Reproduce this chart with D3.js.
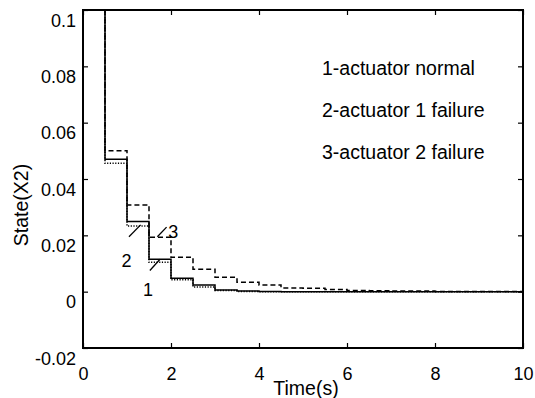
<!DOCTYPE html>
<html>
<head>
<meta charset="utf-8">
<script src="https://cdn.jsdelivr.net/npm/d3@7"></script>
<style>
  html, body { margin: 0; padding: 0; background: #fff; }
  svg { display: block; font-family: "Liberation Sans", Arial, sans-serif; }
</style>
</head>
<body>
<svg id="chart" width="535" height="398"></svg>
<script>
// ---- data ----
const times = [0, 0.5, 1, 1.5, 2, 2.5, 3, 3.5, 4, 4.5, 5, 5.5, 6, 6.5, 7, 7.5, 8, 8.5, 9, 9.5, 10];
const normal   = [0.2, 0.047, 0.0249, 0.0115, 0.0048, 0.0024, 0.0006, 0.0002, 0.0001, 0, 0, 0, 0, 0, 0, 0, 0, 0, 0, 0, 0];
const fail1    = [0.2, 0.0456, 0.0233, 0.0104, 0.0042, 0.0017, 0.0004, 0.0001, 0, 0, 0, 0, 0, 0, 0, 0, 0, 0, 0, 0, 0];
const fail2    = [0.2, 0.050, 0.0308, 0.0193, 0.0122, 0.008, 0.0051, 0.0033, 0.0024, 0.0013, 0.0012, 0.0008, 0.0004, 0.0003, 0.0002, 0.0002, 0.0001, 0.0001, 0.0001, 0.0001, 0.0001];
const xTicks = [0, 2, 4, 6, 8, 10];
const yTicks = [-0.02, 0, 0.02, 0.04, 0.06, 0.08, 0.1];
const yTickLabels = ["-0.02", "0", "0.02", "0.04", "0.06", "0.08", "0.1"];
const legendTexts = ["1-actuator normal", "2-actuator 1 failure", "3-actuator 2 failure"];
const curveLabels = ["1", "2", "3"];
const labelPos = [[1.48, 0.0006], [0.99, 0.0112], [2.05, 0.0212]];
const pointerLines = [[[1.52, 0.0075], [1.75, 0.0115]], [[1.045, 0.0195], [1.31, 0.0237]], [[1.69, 0.0195], [1.90, 0.0229]]];

// ---- layout ----
const svg = d3.select("#chart");
const L = 83, R = 523, T = 10, B = 348;
const x = d3.scaleLinear().domain([0, 10]).range([L, R]);
const y = d3.scaleLinear().domain([-0.02, 0.1]).range([B, T]);
const fs = 18, fsBig = 19.5;

svg.append("defs").append("clipPath").attr("id", "clip")
  .append("rect").attr("x", L).attr("y", T).attr("width", R - L).attr("height", B - T);

// series
const line = d3.line().x((d, i) => x(times[i])).y(d => y(d)).curve(d3.curveStepAfter);
const series = [
  { vals: fail2, dash: "5,3" },
  { vals: fail1, dash: "1.2,1.5" },
  { vals: normal, dash: null }
];
const g = svg.append("g").attr("clip-path", "url(#clip)");
series.forEach(s => {
  g.append("path").datum(s.vals).attr("d", line)
    .attr("fill", "none").attr("stroke", "#000").attr("stroke-width", 1.5)
    .attr("stroke-dasharray", s.dash);
});

// axes (ticks inward, mirrored)
function styleAxis(sel) {
  sel.select(".domain").remove();
  sel.selectAll(".tick line").attr("stroke", "#000").attr("stroke-width", 1.2);
  sel.selectAll("text").attr("font-size", fs).attr("fill", "#000").attr("font-family", "Liberation Sans, Arial, sans-serif");
}
const xb = svg.append("g").attr("transform", `translate(0,${B})`)
  .call(d3.axisBottom(x).tickValues(xTicks).tickSizeInner(-5).tickSizeOuter(0).tickPadding(19).tickFormat(d3.format("d")));
styleAxis(xb);
const xt = svg.append("g").attr("transform", `translate(0,${T})`)
  .call(d3.axisTop(x).tickValues(xTicks).tickSizeInner(-5).tickSizeOuter(0).tickFormat(""));
styleAxis(xt);
const yl = svg.append("g").attr("transform", `translate(${L},0)`)
  .call(d3.axisLeft(y).tickValues(yTicks).tickSizeInner(-5).tickSizeOuter(0).tickPadding(7)
    .tickFormat((d, i) => yTickLabels[i]));
styleAxis(yl);
yl.selectAll("text").attr("dy", "0.9em");
const yr = svg.append("g").attr("transform", `translate(${R},0)`)
  .call(d3.axisRight(y).tickValues(yTicks).tickSizeInner(-5).tickSizeOuter(0).tickFormat(""));
styleAxis(yr);

// frame
svg.append("rect").attr("x", L).attr("y", T).attr("width", R - L).attr("height", B - T)
  .attr("fill", "none").attr("stroke", "#000").attr("stroke-width", 2);

// axis titles
svg.append("text").attr("x", 306).attr("y", 395).attr("text-anchor", "middle")
  .attr("font-size", fsBig).text("Time(s)");
svg.append("text").attr("transform", "translate(28,205) rotate(-90)").attr("text-anchor", "middle")
  .attr("font-size", fsBig).text("State(X2)");

// legend texts
legendTexts.forEach((t, i) => {
  svg.append("text").attr("x", 322).attr("y", 75 + i * 42).attr("font-size", fsBig).text(t);
});

// curve labels and pointers
curveLabels.forEach((t, i) => {
  svg.append("text").attr("x", x(labelPos[i][0])).attr("y", y(labelPos[i][1])).attr("dy", "0.36em")
    .attr("text-anchor", "middle").attr("font-size", fs).text(t);
});
pointerLines.forEach(p => {
  svg.append("line").attr("x1", x(p[0][0])).attr("y1", y(p[0][1])).attr("x2", x(p[1][0])).attr("y2", y(p[1][1]))
    .attr("stroke", "#000").attr("stroke-width", 1.3);
});
</script>
</body>
</html>
